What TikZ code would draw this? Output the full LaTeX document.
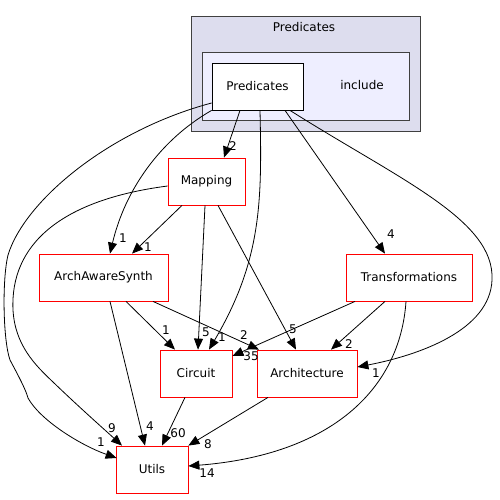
\documentclass[tikz,border=0pt]{standalone}
\usepackage{fontspec}
\setmainfont{DejaVu Sans}
\usetikzlibrary{arrows.meta,calc}
\definecolor{outerfill}{HTML}{DDDDEE}
\definecolor{innerfill}{HTML}{EEEEFF}
\definecolor{clborder}{HTML}{404040}
\begin{document}
\begin{tikzpicture}[x=1pt,y=-1pt,
  every node/.style={font=\fontsize{12pt}{14pt}\selectfont},
  dirbox/.style={draw=red,fill=white,line width=0.8pt,minimum height=47pt,inner sep=0pt},
  mainbox/.style={draw=black,fill=white,line width=0.8pt,minimum height=47pt,inner sep=0pt},
  dep/.style={draw=black,line width=0.8pt,-{Triangle[length=11pt,width=9pt]}},
  lbl/.style={inner sep=0pt}]
\useasboundingbox (0,0) rectangle (499,500);
% clusters
\draw[clborder,fill=outerfill,line width=0.8pt] (191,16) rectangle (420,131);
\node[lbl] (outerlbl) at (304,27) {Predicates};
\draw[clborder,fill=innerfill,line width=0.8pt] (202,52) rectangle (409,120);
\node[lbl] (innerlbl) at (362,85) {include};
% nodes
\node[mainbox,minimum width=91pt] (pred) at (257.5,86.5) {Predicates};
\node[dirbox,minimum width=77pt] (map) at (206.5,181.5) {Mapping};
\node[dirbox,minimum width=129pt] (aas) at (103.5,277.5) {ArchAwareSynth};
\node[dirbox,minimum width=126pt] (trans) at (409,277.5) {Transformations};
\node[dirbox,minimum width=72pt] (circ) at (196,373.5) {Circuit};
\node[dirbox,minimum width=100pt] (arch) at (307,373.5) {Architecture};
\node[dirbox,minimum width=72pt] (utils) at (152,469.5) {Utils};
% edges from Predicates
\draw[dep] ($(pred.west)+(0,16.5)$) .. controls (110,130) and (25,200) .. (8,255)
   .. controls (2,280) and (3,340) .. (10,360)
   .. controls (18,375) and (26,390) .. (28,398)
   .. controls (40,420) and (80,445) .. ($(utils.west)+(1,-11.5)$);
\draw[dep] (pred.south west) .. controls (160,140) and (125,190) .. ($(aas.north)+(6.5,0)$);
\draw[dep] ($(pred.south)+(-17.5,0)$) -- ($(map.north)+(17.5,0)$);
\draw[dep] ($(pred.south)+(2.5,0)$) .. controls (262,200) and (262,260) .. ($(circ.north)+(13,0)$);
\draw[dep] ($(pred.south)+(27.5,0)$) -- ($(trans.north)+(-24,0)$);
\draw[dep] ($(pred.south)+(32.5,0)$) .. controls (400,180) and (495,220) .. (492,280)
   .. controls (490,330) and (420,355) .. ($(arch.east)+(0,-6.5)$);
% edges from Mapping
\draw[dep] ($(map.south)+(-24.5,0)$) -- ($(aas.north)+(28.5,0)$);
\draw[dep] ($(map.south)+(-1.5,0)$) -- ($(circ.north)+(2,0)$);
\draw[dep] ($(map.south)+(11.5,0)$) -- ($(arch.north)+(-11,0)$);
\draw[dep] ($(map.west)+(0,4.5)$) .. controls (60,200) and (10,245) .. (13,310)
   .. controls (15,345) and (35,365) .. (53,382)
   .. controls (80,408) and (105,430) .. ($(utils.north)+(-30,0)$);
% edges from ArchAwareSynth
\draw[dep] ($(aas.south)+(22.5,0)$) -- ($(circ.north)+(-21,0)$);
\draw[dep] ($(aas.south)+(49.5,0)$) -- ($(arch.north)+(-48,0)$);
\draw[dep] ($(aas.south)+(6.5,0)$) -- ($(utils.north)+(-7,0)$);
% edges from Transformations
\draw[dep] ($(trans.south)+(-54,0)$) -- ($(circ.east)+(0,-17.5)$);
\draw[dep] ($(trans.south)+(-24,0)$) -- ($(arch.north)+(24,0)$);
\draw[dep] ($(trans.south)+(-3,0)$) .. controls (400,390) and (330,455) .. ($(utils.east)+(0,-3.5)$);
% edges to Utils
\draw[dep] ($(circ.south)+(-11,0)$) -- ($(utils.north)+(10,0)$);
\draw[dep] ($(arch.south)+(-39,0)$) -- (utils.north east);
% edge labels
\node[lbl] (l1) at (101,442) {1};
\node[lbl] (l2) at (123,238) {1};
\node[lbl] (l3) at (233,146) {2};
\node[lbl] (l4) at (222,337) {1};
\node[lbl] (l5) at (391,234) {4};
\node[lbl] (l6) at (376,373) {1};
\node[lbl] (l7) at (148,247) {1};
\node[lbl] (l8) at (206,332) {5};
\node[lbl] (l9) at (293,329) {5};
\node[lbl] (l10) at (112,428) {9};
\node[lbl] (l11) at (166,330) {1};
\node[lbl] (l12) at (244,335) {2};
\node[lbl] (l13) at (150,426) {4};
\node[lbl] (l14) at (251,356) {35};
\node[lbl] (l15) at (349,344) {2};
\node[lbl] (l16) at (207,473) {14};
\node[lbl] (l17) at (178,433) {60};
\node[lbl] (l18) at (208,444) {8};
\end{tikzpicture}
\end{document}
